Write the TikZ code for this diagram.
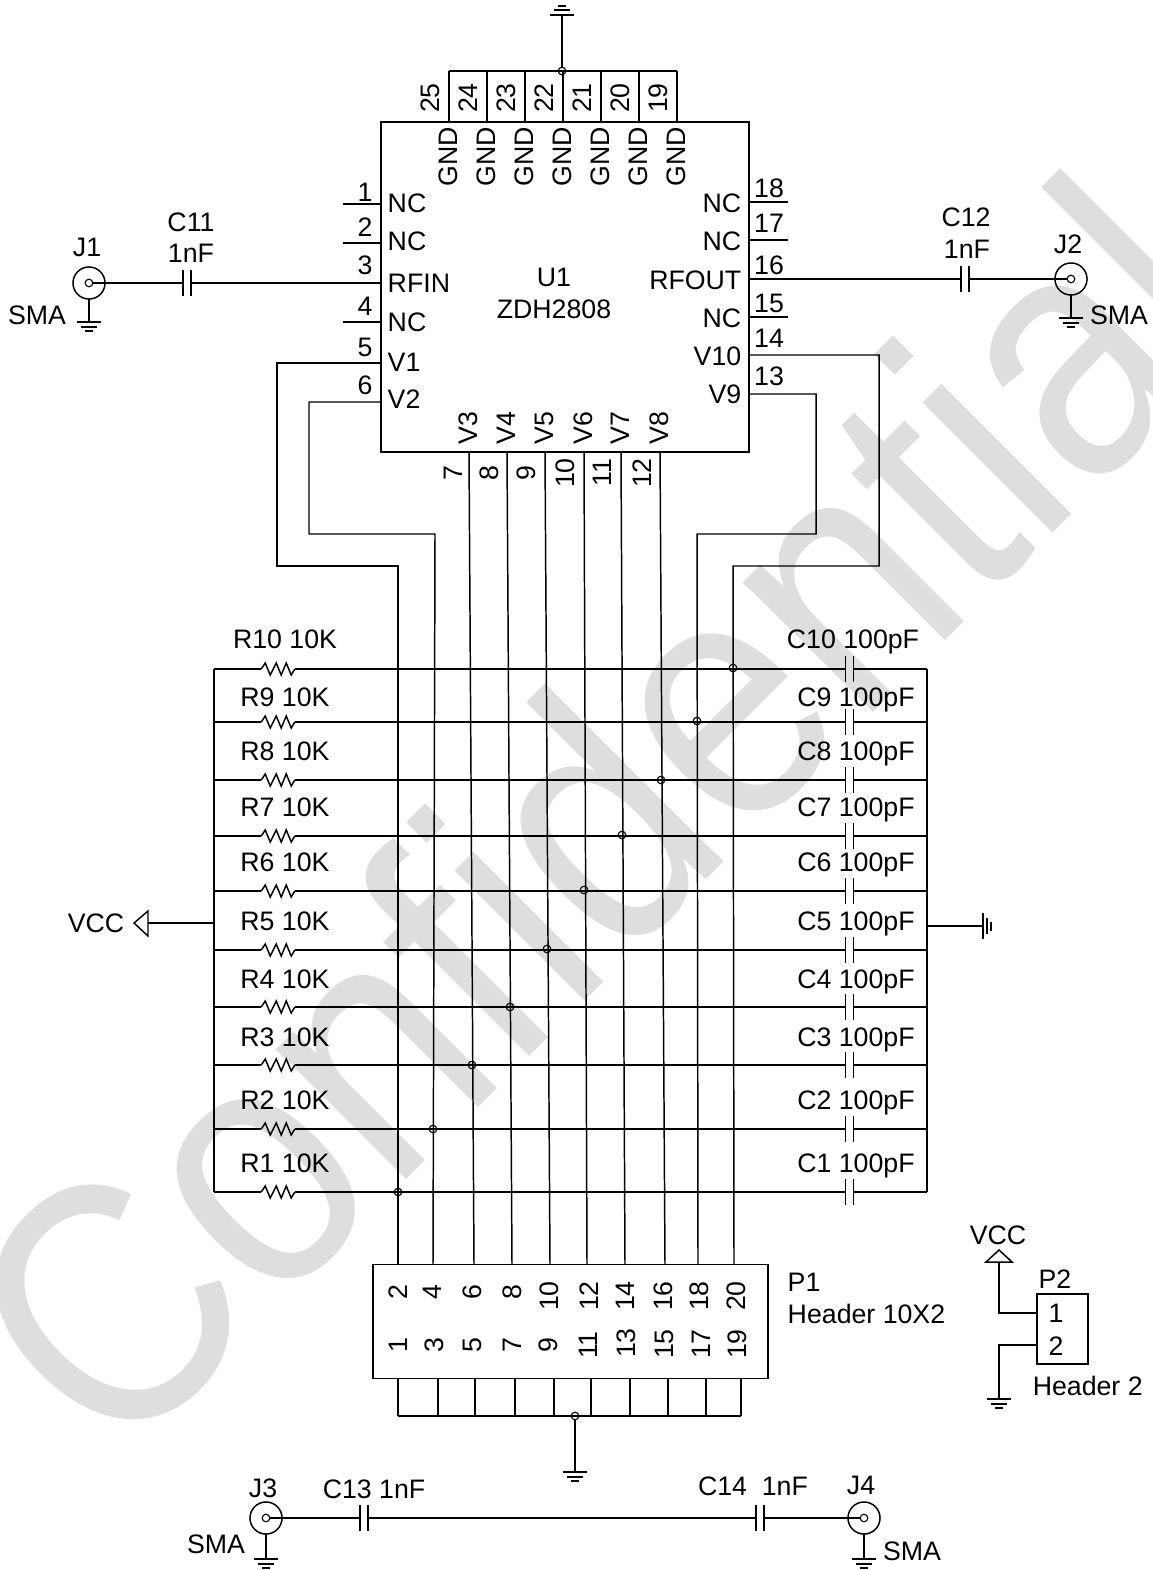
\documentclass[tikz,border=0pt]{standalone}
\usepackage{graphicx}
\usepackage{fontspec}
\setmainfont{Liberation Sans}

\begin{document}
\begin{tikzpicture}[x=0.025cm, y=-0.025cm, line width=1.05pt]

    \tikzstyle{ann} = [font=\fontsize{19}{21}\selectfont, inner sep=0pt, yshift=-.7pt]
    \tikzstyle{annv} = [ann, rotate=90, xshift=.7pt, yshift=.7pt]
    \tikzstyle{dot} = [draw, circle, inner sep=0pt, minimum size=5.4pt, line width=.8pt]
    \tikzstyle{sma} = [draw, circle, inner sep=0pt, minimum size=22.8pt]
    \tikzstyle{pinhole} = [draw, circle, inner sep=0pt, minimum size=5.4pt, line width=.8pt]
    \tikzstyle{capa} = [inner sep=0pt, minimum width=4.6pt, minimum height=17pt]
    \tikzstyle{res} = [inner sep=0pt, minimum width=22.8pt, minimum height=8pt]

    \useasboundingbox (0,0) rectangle (1152,1570);

    % Watermark
    \begin{scope}
        \clip (0,0) rectangle (1152,1570);
        \node[inner sep=0pt, anchor=base west, rotate=45, text=black!13,
            font=\fontsize{247.5}{248}\selectfont] (mark) at (115,1471)
            {\scalebox{.876}[1]{Confidential}};
    \end{scope}

    % U1
    \node[draw, inner sep=0pt, minimum width=261.8pt, minimum height=234.7pt] (U1) at (565,287) {};
    \node[ann] (U1a) at (554,276) {U1};
    \node[ann] (U1b) at (554,308) {ZDH2808};

    % Top pins
    \coordinate (gt) at (562,15);
    \node[dot] (gj) at (562,71) {};
    \draw (gt) -- (gj);
    \draw (449,71) -- (677,71);
    \foreach \n/\x in {25/449,24/487,23/525,22/563,21/601,20/639,19/677} {
        \draw (\x,71) -- (\x,122);
        \node[annv] (t\n) at ({\x-18},98) {\n};
        \node[annv] (tg\n) at (\x,157) {GND};
    }

    % Left pins
    \foreach \n/\y/\ly/\t/\ty in {1/204/191/NC/202,2/243/226/NC/240,3/283/264/RFIN/282,
                                  4/322/305/NC/321,5/363/346/V1/361,6/402/384/V2/398} {
        \coordinate (pl\n) at (381,\y);
        \node[ann] (nl\n) at (365,\ly) {\n};
        \node[ann, anchor=west] (tl\n) at (387,\ty) {\t};
    }
    \foreach \n in {1,2,4} {
        \draw (pl\n) -- +(-38,0);
    }

    % Right pins
    \foreach \n/\y/\ly/\t/\ty in {18/202/187/NC/202,17/240/222/NC/240,16/279/264/RFOUT/279,
                                  15/317/302/NC/317,14/355/337/V10/355,13/394/375/V9/393} {
        \coordinate (pr\n) at (749,\y);
        \node[ann] (nr\n) at (769,\ly) {\n};
        \node[ann, anchor=east] (tr\n) at (742,\ty) {\t};
    }
    \foreach \n in {18,17,15} {
        \draw (pr\n) -- +(39,0);
    }

    % Bottom pins, down to P1
    \foreach \n/\xa/\xb/\lx/\t in {7/469/474/454/V3,8/507/512/490/V4,9/545/550/527/V5,
                                   10/584/587/566/V6,11/621/625/603/V7,12/660/665/643/V8} {
        \draw (\xa,452) -- (\xb,1264);
        \node[annv] (nb\n) at (\lx,473) {\n};
        \node[annv] (tb\n) at (\xa,428) {\t};
    }

    % V1, V2, V9, V10
    \coordinate (h2) at (398,1264);
    \coordinate (h4) at (433,1264);
    \coordinate (h18) at (698,1264);
    \coordinate (h20) at (734,1264);
    \draw (pl5) -- (277,363) -- (277,566) -- (398,566) -- (h2);
    \draw (pl6) -- (309,402) -- (309,534) -- (435,534) -- (h4);
    \draw (pr14) -- (879,355) -- (879,566) -- (733,566) -- (h20);
    \draw (pr13) -- (816,394) -- (816,534) -- (697,534) -- (h18);

    % RF in and out
    \node[sma] (J1) at (89,283) {};
    \node[pinhole] (J1p) at (89,283) {};
    \node[capa] (C11) at (187,283) {};
    \draw (J1p) -- (C11.west);
    \draw (C11.east) -- (pl3);
    \node[ann] (J1a) at (87,246) {J1};
    \node[ann] (C11a) at (191,221) {C11};
    \node[ann] (C11b) at (191,252) {1nF};
    \node[ann] (J1s) at (37,314) {SMA};

    \node[sma] (J2) at (1071,279) {};
    \node[pinhole] (J2p) at (1071,279) {};
    \node[capa] (C12) at (965,279) {};
    \draw (pr16) -- (C12.west);
    \draw (C12.east) -- (J2p);
    \node[ann] (J2a) at (1068,243) {J2};
    \node[ann] (C12a) at (966,216) {C12};
    \node[ann] (C12b) at (967,248) {1nF};
    \node[ann] (J2s) at (1119,314) {SMA};

    % Bottom RF line
    \node[sma] (J3) at (266,1518) {};
    \node[pinhole] (J3p) at (266,1518) {};
    \node[capa] (C13) at (364,1518) {};
    \node[capa] (C14) at (760,1518) {};
    \node[sma] (J4) at (864,1518) {};
    \node[pinhole] (J4p) at (864,1518) {};
    \draw (J3p) -- (C13.west);
    \draw (C13.east) -- (C14.west);
    \draw (C14.east) -- (J4p);
    \node[ann] (J3a) at (263,1487) {J3};
    \node[ann] (C13a) at (374,1488) {C13 1nF};
    \node[ann] (J3s) at (216,1543) {SMA};
    \node[ann] (J4a) at (861,1484) {J4};
    \node[ann] (C14a) at (753,1485) {C14\ \ 1nF};
    \node[ann] (J4s) at (912,1550) {SMA};

    \foreach \c in {C11,C12,C13,C14} {
        \draw (\c.north west) -- (\c.south west);
        \draw (\c.north east) -- (\c.south east);
    }

    % R and C rows
    \foreach \n/\y/\ly/\lc in {10/669/638/853,9/722/696/856,8/780/750/856,
                               7/836/806/856,6/891/861/856,5/950/920/856,
                               4/1007/978/856,3/1065/1036/856,2/1129/1099/856,
                               1/1192/1162/856} {
        \coordinate (rl\n) at (214,\y);
        \coordinate (rr\n) at (927,\y);
        \node[res] (R\n) at (278,\y) {};
        \node[capa] (C\n) at (849.5,\y) {};
        \draw (rl\n) -- (R\n.west);
        \draw (R\n.west) -- ++(4,-6) -- ++(5,12) -- ++(6,-12) -- ++(5,12)
            -- ++(5,-12) -- ++(5,12) -- (R\n.east);
        \draw (R\n.east) -- (C\n.west);
        \draw (C\n.east) -- (rr\n);
        \draw (C\n.north west) -- (C\n.south west);
        \draw (C\n.north east) -- (C\n.south east);
        \node[ann] (Ra\n) at (285,\ly) {R\n\ 10K};
        \node[ann] (Ca\n) at (\lc,{\ly+3}) {C\n\ 100pF};
    }
    \draw (rl10) -- (rl1);
    \draw (rr10) -- (rr1);

    \foreach \n/\x/\y in {a/398/1192,b/433/1129,c/472/1065,d/510/1007,e/547/949,
                          f/584/890,g/622/835,h/661/780,i/697/721,j/733/668} {
        \node[dot] (jn\n) at (\x,\y) {};
    }

    % VCC and ground of the rows
    \node[ann] (VCC) at (96,922) {VCC};
    \coordinate (vt) at (148,923);
    \draw (134,923) -- (148,911) -- (vt) -- (148,936) -- cycle;
    \draw (vt) -- (214,923);
    \coordinate (gr) at (983,926);
    \draw (927,926) -- (gr);
    \draw (983,913) -- (983,939);
    \draw (987,918) -- (987,934);
    \draw (991,922) -- (991,931);

    % P1
    \node[draw, inner sep=0pt, minimum width=281.0pt, minimum height=81.1pt] (P1) at (570.5,1321.5) {};
    \foreach \n/\x/\y in {2/399/1292,4/433/1292,6/473/1292,8/513/1292,10/550/1296,12/590/1296,
                          14/626/1296,16/664/1296,18/700/1296,20/737/1296,
                          1/399/1345,3/435/1345,5/473/1345,7/513/1345,9/549/1345,11/589/1345,
                          13/627/1343,15/665/1344,17/702/1344,19/738/1344} {
        \node[annv] (h\n a) at (\x,\y) {\n};
    }
    \foreach \x in {398,438,475,515,554,591,630,668,706,741} {
        \draw (\x,1379) -- (\x,1416);
    }
    \draw (398,1416) -- (741,1416);
    \node[dot] (gb) at (575,1416) {};
    \coordinate (gbe) at (575,1472);
    \draw (gb) -- (gbe);
    \node[ann, anchor=west] (P1a) at (787,1281) {P1};
    \node[ann, anchor=west] (P1b) at (787,1313) {Header 10X2};

    % P2
    \node[draw, inner sep=0pt, minimum width=36.3pt, minimum height=49.8pt] (P2) at (1062.5,1329) {};
    \node[ann] (P2a) at (1055,1278) {P2};
    \node[ann] (P2p1) at (1056,1312) {1};
    \node[ann] (P2p2) at (1056,1345) {2};
    \node[ann, anchor=west] (P2b) at (1032,1385) {Header 2};
    \node[ann] (VCC2) at (998,1234) {VCC};
    \draw (999,1250) -- (986,1262) -- (1012,1262) -- cycle;
    \draw (1037,1313) -- (999,1313) -- (999,1262);
    \draw (1037,1345) -- (999,1345) -- (999,1399);

    % Grounds
    \draw (89,299) -- (89,322);
    \draw (1071,295) -- (1071,318);
    \draw (266,1534) -- (266,1559);
    \draw (864,1534) -- (864,1559);
    \foreach \x/\y/\s in {562/15/-1,89/322/1,1071/318/1,266/1559/1,864/1559/1,575/1472/1,999/1399/1} {
        \draw ({\x-12},\y) -- ({\x+12},\y);
        \draw ({\x-8},{\y+5*\s}) -- ({\x+8},{\y+5*\s});
        \draw ({\x-4},{\y+9*\s}) -- ({\x+4},{\y+9*\s});
    }

\end{tikzpicture}
\end{document}
